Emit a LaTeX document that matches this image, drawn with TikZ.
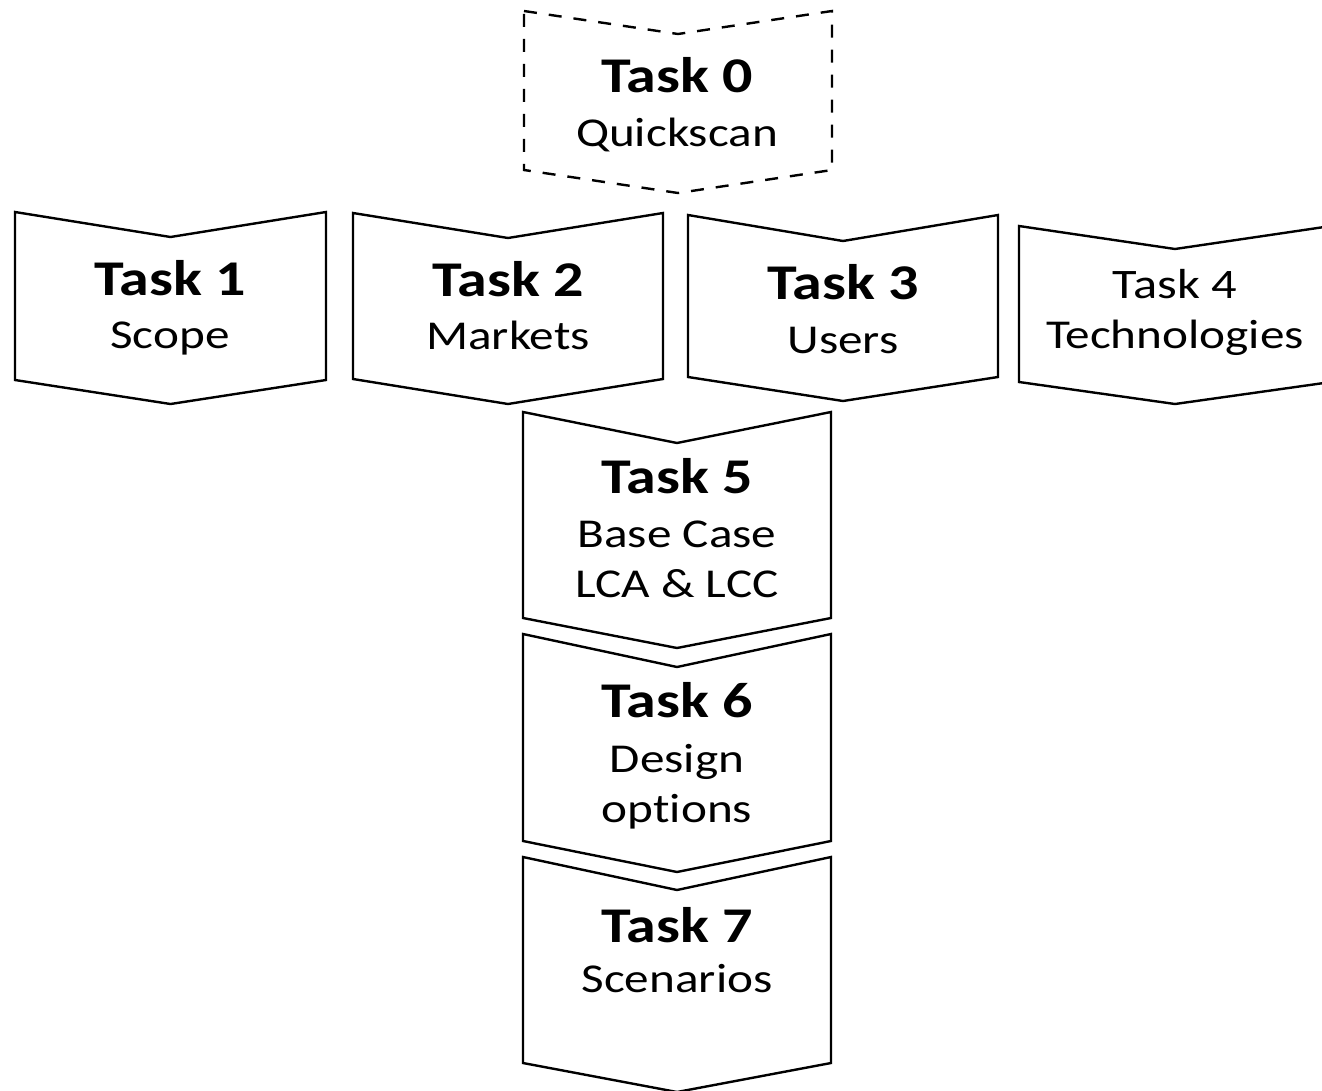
\documentclass[tikz,border=0pt]{standalone}
\usepackage{fontspec}
\setmainfont[FakeStretch=1.2, Ligatures=NoCommon, RawFeature={-liga}]{Carlito}
\tikzset{
  chevbox/.style={draw=black, line width=2.4pt, fill=white, line join=miter},
  dashbox/.style={chevbox, dash pattern=on 13pt off 12pt},
  ttl/.style={font=\bfseries\fontsize{50}{60}\selectfont, anchor=base, inner sep=0pt},
  ttlplain/.style={font=\fontsize{42}{50}\selectfont, anchor=base, inner sep=0pt},
  sub/.style={font=\fontsize{41}{50}\selectfont, anchor=base, inner sep=0pt},
}
% #1 style, #2 L, #3 R, #4 top, #5 notch, #6 bottom, #7 point
\newcommand\chevshape[7]{%
  \path[#1] (#2,#4) -- ({(#2+#3)/2},#5) -- (#3,#4) -- (#3,#6) -- ({(#2+#3)/2},#7) -- (#2,#6) -- cycle;}
\begin{document}
\begin{tikzpicture}[x=1pt,y=-1pt]
\useasboundingbox (0,0) rectangle (1322,1090);
\fill[white] (0,0) rectangle (1322,1090);
% shapes
\chevshape{dashbox}{524}{832}{11}{34}{170}{193}
\chevshape{chevbox}{15}{326}{212}{237}{380}{404}
\chevshape{chevbox}{353}{663}{213}{238}{379}{404}
\chevshape{chevbox}{688}{998}{215}{241}{377}{401}
\chevshape{chevbox}{1019}{1331}{226}{249}{382}{404}
\chevshape{chevbox}{523}{831}{412}{443}{618}{648}
\chevshape{chevbox}{523}{831}{634}{667}{841}{872}
\chevshape{chevbox}{523}{831}{857}{890}{1063}{1092}
% texts
\node[ttl] (t0) at (677,92) {Task 0};
\node[sub] (s0) at (677,146) {Quickscan};
\node[ttl] (t1) at (170,295) {Task 1};
\node[sub] (s1) at (170,348) {Scope};
\node[ttl] (t2) at (508,296) {Task 2};
\node[sub] (s2) at (508,349) {Markets};
\node[ttl] (t3) at (843,299) {Task 3};
\node[sub] (s3) at (843,353) {Users};
\node[ttlplain] (t4) at (1175,298) {Task 4};
\node[sub] (s4) at (1175,348) {Technologies};
\node[ttl] (t5) at (677,493) {Task 5};
\node[sub] (s5a) at (677,547) {Base Case};
\node[sub] (s5b) at (677,597) {LCA \& LCC};
\node[ttl] (t6) at (677,717) {Task 6};
\node[sub] (s6a) at (677,772) {Design};
\node[sub] (s6b) at (677,822) {options};
\node[ttl] (t7) at (677,942) {Task 7};
\node[sub] (s7) at (677,992) {Scenarios};
\end{tikzpicture}
\end{document}
